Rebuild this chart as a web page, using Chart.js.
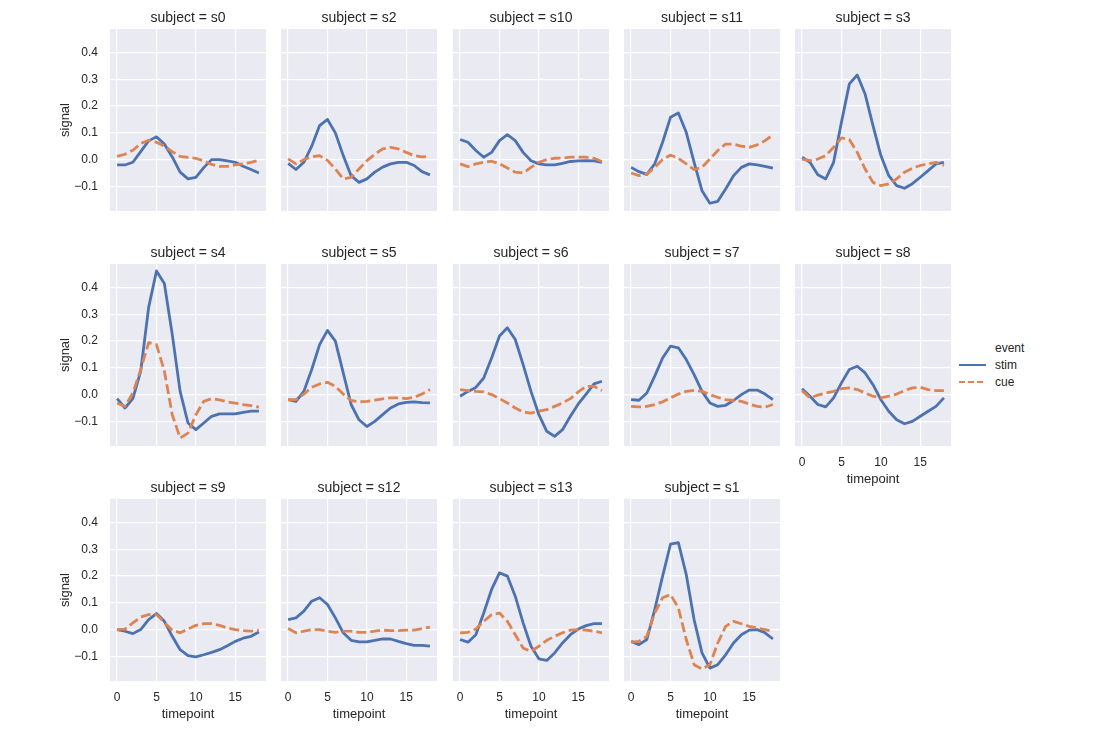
<!DOCTYPE html>
<html><head><meta charset="utf-8">
<script src="https://cdn.jsdelivr.net/npm/chart.js@4.4.1/dist/chart.umd.min.js"></script>
<style>
html,body{margin:0;padding:0;background:#fff;}
body{width:1103px;height:738px;position:relative;overflow:hidden;font-family:"Liberation Sans",Arial,sans-serif;color:#262626;}
canvas{position:absolute;}
.lg{position:absolute;font-size:12px;line-height:14px;color:#262626;white-space:nowrap;}
</style></head><body>
<div class="lg" style="left:995px;top:341px;">event</div>
<div class="lg" style="left:995px;top:358px;">stim</div>
<div class="lg" style="left:995px;top:375px;">cue</div>
<svg style="position:absolute;left:955px;top:355px" width="36" height="36">
  <line x1="4" y1="10" x2="31" y2="10" stroke="#4c72b0" stroke-width="2"/>
  <line x1="4" y1="27" x2="31" y2="27" stroke="#dd8452" stroke-width="2" stroke-dasharray="6,3"/>
</svg>
<script>
const timepoints = [0,1,2,3,4,5,6,7,8,9,10,11,12,13,14,15,16,17,18];
const subjects = ["s0","s2","s10","s11","s3","s4","s5","s6","s7","s8","s9","s12","s13","s1"];
const yTicks = [-0.1,0.0,0.1,0.2,0.3,0.4];
const xTicks = [0,5,10,15];

const stim_s0 = [-0.02,-0.02,-0.01,0.03,0.07,0.085,0.058,0.01,-0.047,-0.072,-0.066,-0.03,0.0,0.0,-0.005,-0.01,-0.025,-0.037,-0.05];
const cue_s0  = [0.012,0.02,0.035,0.06,0.072,0.065,0.05,0.03,0.012,0.008,0.005,-0.005,-0.018,-0.025,-0.025,-0.02,-0.016,-0.01,-0.002];
const stim_s2 = [-0.014,-0.037,-0.01,0.05,0.127,0.15,0.1,0.015,-0.06,-0.085,-0.072,-0.047,-0.028,-0.016,-0.01,-0.01,-0.022,-0.045,-0.057];
const cue_s2  = [0.003,-0.016,0.0,0.01,0.015,-0.003,-0.035,-0.072,-0.066,-0.035,-0.004,0.02,0.04,0.046,0.04,0.027,0.015,0.01,0.012];
const stim_s10 = [0.075,0.065,0.034,0.009,0.027,0.071,0.093,0.071,0.027,-0.004,-0.016,-0.02,-0.02,-0.014,-0.007,-0.005,-0.004,-0.005,-0.01];
const cue_s10  = [-0.016,-0.026,-0.016,-0.01,-0.006,-0.016,-0.031,-0.047,-0.05,-0.029,-0.01,0.0,0.005,0.006,0.009,0.009,0.009,0.005,-0.007];
const stim_s11 = [-0.029,-0.045,-0.055,-0.016,0.065,0.158,0.174,0.102,-0.01,-0.116,-0.163,-0.156,-0.11,-0.06,-0.029,-0.016,-0.02,-0.025,-0.032];
const cue_s11  = [-0.05,-0.06,-0.054,-0.029,0.0,0.017,0.005,-0.016,-0.037,-0.029,0.002,0.034,0.058,0.058,0.05,0.046,0.055,0.071,0.092];
const stim_s3 = [0.009,-0.01,-0.057,-0.072,-0.01,0.14,0.283,0.316,0.245,0.127,0.015,-0.06,-0.097,-0.107,-0.09,-0.066,-0.041,-0.016,-0.01];
const cue_s3  = [0.002,-0.004,0.002,0.015,0.046,0.081,0.075,0.027,-0.035,-0.085,-0.097,-0.091,-0.072,-0.047,-0.032,-0.022,-0.016,-0.01,-0.022];
const stim_s4 = [-0.015,-0.05,-0.015,0.088,0.325,0.462,0.415,0.225,0.012,-0.106,-0.131,-0.106,-0.081,-0.072,-0.072,-0.072,-0.066,-0.062,-0.062];
const cue_s4  = [-0.031,-0.044,0.006,0.094,0.194,0.187,0.088,-0.075,-0.162,-0.144,-0.075,-0.025,-0.015,-0.02,-0.027,-0.032,-0.037,-0.041,-0.047];
const stim_s5 = [-0.019,-0.025,0.012,0.094,0.187,0.24,0.2,0.081,-0.037,-0.094,-0.119,-0.1,-0.075,-0.05,-0.035,-0.029,-0.027,-0.03,-0.031];
const cue_s5  = [-0.019,-0.019,0.002,0.027,0.04,0.046,0.031,0.002,-0.022,-0.027,-0.025,-0.021,-0.016,-0.012,-0.012,-0.015,-0.01,0.002,0.019];
const stim_s6 = [-0.006,0.012,0.027,0.062,0.137,0.219,0.25,0.206,0.112,0.012,-0.075,-0.137,-0.156,-0.131,-0.081,-0.035,0.002,0.04,0.05];
const cue_s6  = [0.019,0.015,0.012,0.01,0.0,-0.015,-0.031,-0.05,-0.065,-0.069,-0.062,-0.056,-0.044,-0.031,-0.015,0.01,0.031,0.031,0.015];
const stim_s7 = [-0.019,-0.021,0.006,0.069,0.137,0.181,0.175,0.131,0.075,0.012,-0.031,-0.044,-0.04,-0.022,0.0,0.017,0.017,0.002,-0.019];
const cue_s7  = [-0.044,-0.046,-0.044,-0.037,-0.027,-0.012,0.002,0.012,0.016,0.012,0.0,-0.01,-0.019,-0.022,-0.025,-0.035,-0.044,-0.047,-0.037];
const stim_s8 = [0.022,-0.006,-0.037,-0.046,-0.012,0.044,0.094,0.106,0.081,0.037,-0.019,-0.062,-0.094,-0.109,-0.1,-0.081,-0.062,-0.044,-0.012];
const cue_s8  = [0.015,-0.012,-0.002,0.006,0.012,0.022,0.025,0.019,0.006,-0.006,-0.012,-0.006,0.002,0.015,0.025,0.027,0.019,0.015,0.015];
const stim_s9 = [0.0,-0.006,-0.015,0.0,0.037,0.06,0.031,-0.025,-0.075,-0.097,-0.102,-0.094,-0.085,-0.075,-0.06,-0.044,-0.032,-0.025,-0.009];
const cue_s9  = [0.0,0.002,0.025,0.047,0.056,0.056,0.027,-0.002,-0.012,0.002,0.016,0.022,0.022,0.016,0.006,0.0,-0.004,-0.006,-0.002];
const stim_s12 = [0.037,0.044,0.069,0.106,0.119,0.094,0.044,-0.012,-0.04,-0.046,-0.046,-0.04,-0.035,-0.035,-0.044,-0.052,-0.059,-0.059,-0.062];
const cue_s12  = [0.004,-0.012,-0.006,0.0,0.0,-0.006,-0.01,-0.006,-0.006,-0.01,-0.01,-0.006,-0.002,-0.004,-0.004,-0.002,-0.002,0.004,0.009];
const stim_s13 = [-0.037,-0.047,-0.019,0.062,0.15,0.212,0.2,0.125,0.025,-0.062,-0.109,-0.115,-0.087,-0.05,-0.019,0.002,0.015,0.022,0.022];
const cue_s13  = [-0.012,-0.01,0.002,0.031,0.056,0.062,0.031,-0.019,-0.069,-0.081,-0.062,-0.04,-0.025,-0.012,-0.002,0.0,-0.002,-0.006,-0.012];
const stim_s1 = [-0.044,-0.056,-0.037,0.075,0.2,0.319,0.325,0.206,0.037,-0.087,-0.144,-0.131,-0.094,-0.05,-0.019,-0.002,0.0,-0.012,-0.035];
const cue_s1  = [-0.047,-0.044,-0.025,0.062,0.119,0.131,0.081,-0.037,-0.131,-0.147,-0.131,-0.05,0.012,0.031,0.022,0.012,0.006,0.0,-0.006];

const stimBySubject = {s0:stim_s0,s2:stim_s2,s10:stim_s10,s11:stim_s11,s3:stim_s3,s4:stim_s4,s5:stim_s5,s6:stim_s6,s7:stim_s7,s8:stim_s8,s9:stim_s9,s12:stim_s12,s13:stim_s13,s1:stim_s1};
const cueBySubject = {s0:cue_s0,s2:cue_s2,s10:cue_s10,s11:cue_s11,s3:cue_s3,s4:cue_s4,s5:cue_s5,s6:cue_s6,s7:cue_s7,s8:cue_s8,s9:cue_s9,s12:cue_s12,s13:cue_s13,s1:cue_s1};

Chart.defaults.font.family = '"Liberation Sans", Arial, sans-serif';
Chart.defaults.color = '#262626';

const bgPlugin = {
  id: 'bg',
  beforeDraw(chart) {
    const {ctx, chartArea: a} = chart;
    ctx.save();
    ctx.fillStyle = '#eaeaf2';
    ctx.fillRect(a.left, a.top, a.right - a.left, a.bottom - a.top);
    ctx.restore();
  }
};

const colLeft = [110, 281, 453, 624, 795];
const rowTop = [29, 264, 499];
const PW = 156, PH = 182, TITLE_H = 26, YAX = 60, XAX = 45;

function fmtY(v) {
  const s = Math.abs(v).toFixed(1);
  return v < -1e-9 ? '\u2212' + s : s;
}
function noPad(s) { s.paddingTop = 0; s.paddingBottom = 0; s.paddingLeft = 0; s.paddingRight = 0; }

subjects.forEach((subj, i) => {
  const col = i % 5, row = Math.floor(i / 5);
  const isLeft = col === 0;
  const hasX = row === 2 || (row === 1 && col === 4);
  const cv = document.createElement('canvas');
  const left = isLeft ? colLeft[col] - YAX : colLeft[col];
  const width = isLeft ? PW + 2 * YAX : PW;
  const top = rowTop[row] - TITLE_H;
  const height = TITLE_H + PH + (hasX ? XAX : 0);
  cv.width = width; cv.height = height;
  cv.style.left = left + 'px'; cv.style.top = top + 'px';
  cv.style.width = width + 'px'; cv.style.height = height + 'px';
  document.body.appendChild(cv);

  const stim = stimBySubject[subj], cue = cueBySubject[subj];
  const scales = {
    x: {
      type: 'linear', position: 'bottom', min: -0.9, max: 18.9,
      afterBuildTicks: s => { s.ticks = xTicks.map(v => ({value: v})); },
      afterFit: s => { s.height = hasX ? XAX : 0; noPad(s); },
      ticks: {display: hasX, font: {size: 12}, color: '#262626', padding: 9, maxRotation: 0},
      grid: {color: '#ffffff', lineWidth: 1.2, drawTicks: false},
      border: {display: false},
      title: {display: hasX, text: 'timepoint', font: {size: 13}, color: '#262626', padding: {top: 0, bottom: 4}}
    },
    y: {
      type: 'linear', position: 'left', min: -0.192, max: 0.488,
      afterBuildTicks: s => { s.ticks = yTicks.map(v => ({value: v})); },
      afterFit: s => { s.width = isLeft ? YAX : 0; noPad(s); },
      ticks: {display: isLeft, font: {size: 12}, color: '#262626', padding: 12, callback: v => fmtY(v)},
      grid: {color: '#ffffff', lineWidth: 1.2, drawTicks: false},
      border: {display: false},
      title: {display: isLeft, text: 'signal', font: {size: 13}, color: '#262626', padding: {top: 8, bottom: 0}}
    }
  };
  if (isLeft) {
    scales.yPad = {
      type: 'linear', position: 'right', display: true, min: 0, max: 1,
      afterFit: s => { s.width = YAX; noPad(s); },
      ticks: {display: false}, grid: {display: false, drawTicks: false}, border: {display: false}
    };
  }

  new Chart(cv, {
    type: 'line',
    data: {
      datasets: [
        {label: 'stim', data: timepoints.map((t, k) => ({x: t, y: stim[k]})), borderColor: '#4c72b0', borderWidth: 2.8,
         pointRadius: 0, tension: 0, fill: false, borderJoinStyle: 'round', borderCapStyle: 'butt', order: 1},
        {label: 'cue', data: timepoints.map((t, k) => ({x: t, y: cue[k]})), borderColor: '#dd8452', borderWidth: 2.8,
         borderDash: [10, 4], pointRadius: 0, tension: 0, fill: false, borderJoinStyle: 'round', borderCapStyle: 'butt', order: 0}
      ]
    },
    options: {
      responsive: false, animation: false, devicePixelRatio: 1,
      layout: {padding: 0},
      plugins: {
        legend: {display: false}, tooltip: {enabled: false},
        title: {display: true, text: 'subject = ' + subj, font: {size: 14, weight: 'normal'}, color: '#262626',
                padding: {top: 7, bottom: 2.2}}
      },
      scales: scales
    },
    plugins: [bgPlugin]
  });
});
</script>
</body></html>
